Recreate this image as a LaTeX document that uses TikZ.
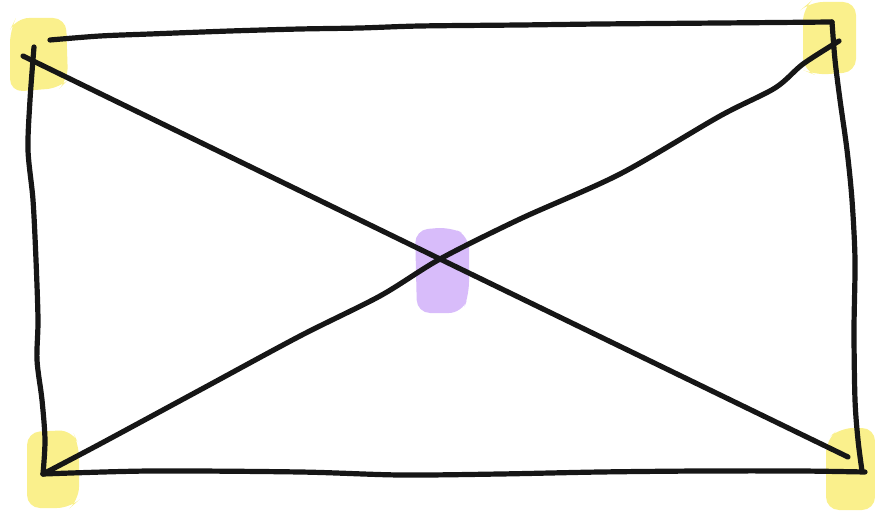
\documentclass[tikz,border=0pt]{standalone}
\usetikzlibrary{calc}
\definecolor{hlyellow}{HTML}{FAF08C}
\definecolor{hlpurple}{HTML}{D8BCFA}
\definecolor{ink}{HTML}{161616}
\tikzset{
  stroke/.style={draw=ink, line width=5.2pt, line cap=round, line join=round},
  blob/.style={rounded corners=13pt, draw=none},
}
\begin{document}
\begin{tikzpicture}[x=1pt,y=-1pt]
\useasboundingbox (0,0) rectangle (875,513);
% highlights
\fill[blob, hlyellow] (10,30) -- (16,18) -- (66,18) -- (68,80) -- (60,88) -- (10,92) -- cycle;
\fill[blob, hlyellow] (803,8) -- (810,2) -- (856,2) -- (856,72) -- (815,75) -- (803,70) -- cycle;
\fill[blob, hlyellow] (27,432) -- (72,430) -- (79,445) -- (79,500) -- (70,508) -- (27,508) -- cycle;
\fill[blob, hlyellow] (826,440) -- (840,428) -- (875,428) -- (875,510) -- (826,510) -- cycle;
\fill[blob, hlpurple] (415,230) -- (450,227) -- (469,236) -- (469,295) -- (462,313) -- (417,313) -- cycle;
% corners
\coordinate (tl) at (34,47);
\coordinate (tlt) at (50,40);
\coordinate (tld) at (23,56);
\coordinate (tr) at (832,22);
\coordinate (trd) at (839,41);
\coordinate (bl) at (43,474);
\coordinate (br) at (865,472);
\coordinate (brr) at (862,471);
\coordinate (brd) at (848,457);
\coordinate (x) at (440,259);
% edges
\draw[stroke] plot[smooth, tension=0.5] coordinates {(tlt) (100,36) (150,34) (230,31) (300,29) (360,28) (420,26) (520,25) (600,24) (720,23) (tr)};
\draw[stroke] plot[smooth, tension=0.5] coordinates {(tl) (30,100) (28,150) (33,200) (36,260) (38,320) (37,360) (42,400) (45,440) (bl)};
\draw[stroke] plot[smooth, tension=0.5] coordinates {(bl) (150,471) (300,472) (400,475) (500,474) (600,472) (700,471) (800,471) (br)};
\draw[stroke] plot[smooth, tension=0.5] coordinates {(tr) (835,60) (840,100) (847,150) (852,200) (855,260) (854,330) (855,400) (858,440) (brr)};
% diagonals
\draw[stroke] (tld) -- (x) -- (brd);
\draw[stroke] plot[smooth, tension=0.5] coordinates {(bl) (100,444) (200,390) (300,336) (380,296) (x) (520,219) (620,174) (720,116) (775,88) (803,64) (trd)};
\end{tikzpicture}
\end{document}
